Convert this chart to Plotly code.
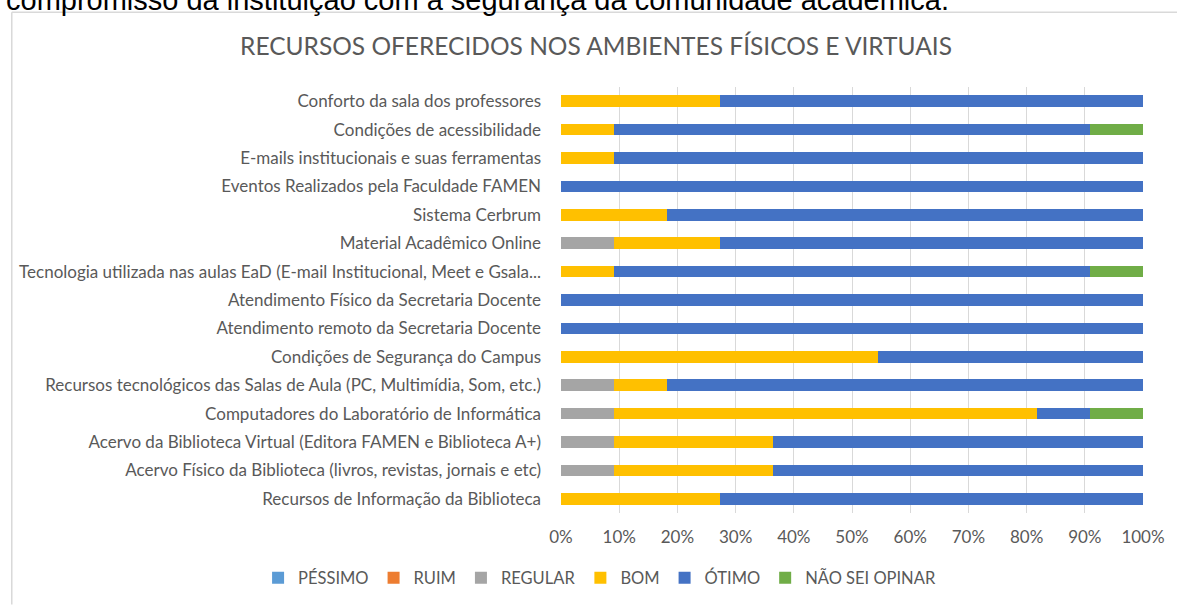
import plotly.graph_objects as go

categories = [
    "Conforto da sala dos professores",
    "Condições de acessibilidade",
    "E-mails institucionais e suas ferramentas",
    "Eventos Realizados pela Faculdade FAMEN",
    "Sistema Cerbrum",
    "Material Acadêmico Online",
    "Tecnologia utilizada nas aulas EaD (E-mail Institucional, Meet e Gsala...",
    "Atendimento Físico da Secretaria Docente",
    "Atendimento remoto da Secretaria Docente",
    "Condições de Segurança do Campus",
    "Recursos tecnológicos das Salas de Aula (PC, Multimídia, Som, etc.)",
    "Computadores do Laboratório de Informática",
    "Acervo da Biblioteca Virtual (Editora FAMEN e Biblioteca A+)",
    "Acervo Físico da Biblioteca (livros, revistas, jornais e etc)",
    "Recursos de Informação da Biblioteca",
]

# response counts (11 respondents per item)
pessimo = [0, 0, 0, 0, 0, 0, 0, 0, 0, 0, 0, 0, 0, 0, 0]
ruim    = [0, 0, 0, 0, 0, 0, 0, 0, 0, 0, 0, 0, 0, 0, 0]
regular = [0, 0, 0, 0, 0, 1, 0, 0, 0, 0, 1, 1, 1, 1, 0]
bom     = [3, 1, 1, 0, 2, 2, 1, 0, 0, 6, 1, 8, 3, 3, 3]
otimo   = [8, 9, 10, 11, 9, 8, 9, 11, 11, 5, 9, 1, 7, 7, 8]
nao_sei = [0, 1, 0, 0, 0, 0, 1, 0, 0, 0, 0, 1, 0, 0, 0]

series_names = ["PÉSSIMO", "RUIM", "REGULAR", "BOM", "ÓTIMO", "NÃO SEI OPINAR"]
series_values = [pessimo, ruim, regular, bom, otimo, nao_sei]
colors = ["#5B9BD5", "#ED7D31", "#A5A5A5", "#FFC000", "#4472C4", "#70AD47"]

tick_vals = list(range(0, 101, 10))
tick_text = [f"{v}%" for v in tick_vals]

W, H = 1177, 608
L, R, T, B = 561, 30, 87, 88
pw, ph = W - L - R, H - T - B

def px_x(p):
    return (p - L) / pw

def px_y(p):
    return (H - B - p) / ph

font_main = "Lato, 'Open Sans', sans-serif"
grey = "#595959"
fs = 17

fig = go.Figure()
for name, vals, col in zip(series_names, series_values, colors):
    fig.add_trace(go.Bar(
        y=categories, x=vals, name=name, orientation="h",
        marker=dict(color=col, line=dict(width=0)),
    ))

fig.update_layout(
    width=W, height=H,
    barmode="stack", barnorm="percent", bargap=0.59,
    paper_bgcolor="white", plot_bgcolor="white",
    margin=dict(l=L, r=R, t=T, b=B),
    font=dict(family=font_main, size=fs, color=grey),
    showlegend=True,
    legend=dict(orientation="h", xref="paper", yref="paper",
                x=px_x(256), y=px_y(586), xanchor="left", yanchor="middle",
                font=dict(size=16.5, color=grey), traceorder="normal", itemwidth=30,
                tracegroupgap=0),
    xaxis=dict(range=[0, 100], tickvals=tick_vals, ticktext=tick_text,
               showgrid=True, gridcolor="#D9D9D9", gridwidth=1, zeroline=False,
               showline=False, ticks="", ticklabelstandoff=12,
               tickfont=dict(size=fs, color=grey), fixedrange=True),
    yaxis=dict(autorange="reversed", showgrid=False, zeroline=False, showline=False,
               ticks="", ticklabelstandoff=19, tickfont=dict(size=fs, color=grey)),
    title=dict(text="RECURSOS OFERECIDOS NOS AMBIENTES FÍSICOS E VIRTUAIS",
               x=596 / W, xref="container", xanchor="center",
               y=1 - 46 / H, yref="container", yanchor="middle",
               font=dict(size=24.5, color=grey, family=font_main)),
)

# chart border (grey frame, partially outside view)
fig.add_shape(type="line", xref="paper", yref="paper",
              x0=px_x(8), x1=px_x(W + 5), y0=px_y(11), y1=px_y(11),
              line=dict(color="#D9D9D9", width=1.5))
fig.add_shape(type="line", xref="paper", yref="paper",
              x0=px_x(8), x1=px_x(8), y0=px_y(11), y1=px_y(H + 5),
              line=dict(color="#D9D9D9", width=1.5))

# cropped document text above the chart
fig.add_annotation(text="compromisso da instituição com a segurança da comunidade acadêmica.",
                   xref="paper", yref="paper", x=px_x(0), y=px_y(17),
                   xanchor="left", yanchor="bottom", showarrow=False,
                   font=dict(family="Liberation Sans, Arial, sans-serif", size=29, color="black"))

fig.write_html("out.html", config={"displayModeBar": False},
               post_script="document.body.style.margin='0px';")
